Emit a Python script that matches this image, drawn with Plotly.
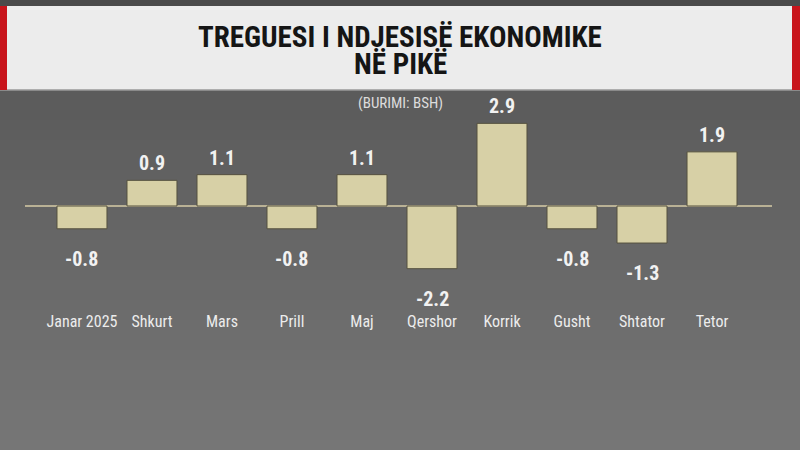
import plotly.graph_objects as go

categories = ["Janar 2025", "Shkurt", "Mars", "Prill", "Maj", "Qershor", "Korrik", "Gusht", "Shtator", "Tetor"]
values = [-0.8, 0.9, 1.1, -0.8, 1.1, -2.2, 2.9, -0.8, -1.3, 1.9]
value_labels = ["-0.8", "0.9", "1.1", "-0.8", "1.1", "-2.2", "2.9", "-0.8", "-1.3", "1.9"]

title_lines = ["TREGUESI I NDJESISË EKONOMIKE", "NË PIKË"]
subtitle = "(BURIMI: BSH)"

W, H = 800, 450
ML, MR, MT, MB = 25, 28, 100, 140
PW, PH = W - ML - MR, H - MT - MB

COND = "Roboto Condensed, Liberation Sans Narrow, DejaVu Sans Condensed, Roboto, sans-serif"


def px(x):
    return (x - ML) / PW


def py(y):
    return (H - MB - y) / PH


fig = go.Figure()
fig.add_trace(go.Bar(
    x=categories, y=values,
    marker=dict(color="#d7d0a6", line=dict(color="#55513f", width=1)),
    hoverinfo="skip",
))

shapes = []
# background vertical gradient bands
n = 45
top_c = (0x54, 0x54, 0x54)
bot_c = (0x76, 0x76, 0x76)
for i in range(n):
    t = i / (n - 1)
    c = tuple(int(round(top_c[k] + (bot_c[k] - top_c[k]) * t)) for k in range(3))
    y0 = i * H / n
    y1 = (i + 1) * H / n + 1
    shapes.append(dict(type="rect", xref="paper", yref="paper", layer="below",
                       x0=px(0), x1=px(W), y0=py(y1), y1=py(y0),
                       fillcolor="rgb(%d,%d,%d)" % c, line=dict(width=0)))
# dark top strip
shapes.append(dict(type="rect", xref="paper", yref="paper", layer="below",
                   x0=px(0), x1=px(W), y0=py(6), y1=py(0),
                   fillcolor="#4a4a4a", line=dict(width=0)))
# title box
shapes.append(dict(type="rect", xref="paper", yref="paper", layer="below",
                   x0=px(0), x1=px(W), y0=py(90), y1=py(6),
                   fillcolor="#ececec", line=dict(width=0)))
shapes.append(dict(type="line", xref="paper", yref="paper", layer="below",
                   x0=px(0), x1=px(W), y0=py(90), y1=py(90),
                   line=dict(color="#9a9a9a", width=1.5)))
for x0, x1 in [(0, 7), (792, 800)]:
    shapes.append(dict(type="rect", xref="paper", yref="paper", layer="below",
                       x0=px(x0), x1=px(x1), y0=py(90), y1=py(6),
                       fillcolor="#c8141b", line=dict(width=0)))

annotations = [
    dict(x=px(400), y=py(37), xref="paper", yref="paper", text="<b>" + title_lines[0] + "</b>",
         xanchor="center", yanchor="middle",
         showarrow=False, font=dict(family=COND, size=29, color="#151515")),
    dict(x=px(400), y=py(64), xref="paper", yref="paper", text="<b>" + title_lines[1] + "</b>",
         xanchor="center", yanchor="middle",
         showarrow=False, font=dict(family=COND, size=29, color="#151515")),
    dict(x=px(400), y=py(103), xref="paper", yref="paper", text=subtitle,
         xanchor="center", yanchor="middle",
         showarrow=False, font=dict(family=COND, size=15, color="#dcdcdc")),
]
for c, v, lab in zip(categories, values, value_labels):
    if v >= 0:
        annotations.append(dict(x=c, y=v, text="<b>" + lab + "</b>", showarrow=False,
                                yanchor="bottom", yshift=3,
                                font=dict(family=COND, size=20, color="#f2f2f2")))
    else:
        annotations.append(dict(x=c, y=v, text="<b>" + lab + "</b>", showarrow=False,
                                yanchor="top", yshift=-16,
                                font=dict(family=COND, size=20, color="#f2f2f2")))

fig.update_layout(
    width=W, height=H,
    margin=dict(l=ML, r=MR, t=MT, b=MB),
    paper_bgcolor="#686868", plot_bgcolor="rgba(0,0,0,0)",
    showlegend=False, bargap=0.286,
    shapes=shapes, annotations=annotations,
    xaxis=dict(range=[-0.814, 9.857], showgrid=False, zeroline=False, showline=False,
               ticks="", tickfont=dict(family=COND, size=16, color="#ececec"), fixedrange=True),
    yaxis=dict(range=[-3.65, 3.72], showgrid=False, showticklabels=False,
               zeroline=True, zerolinecolor="#b9b195", zerolinewidth=2, showline=False,
               fixedrange=True),
)

fig.write_html("out.html", config={"displayModeBar": False},
               post_script="document.body.style.margin='0';document.body.style.overflow='hidden';")
